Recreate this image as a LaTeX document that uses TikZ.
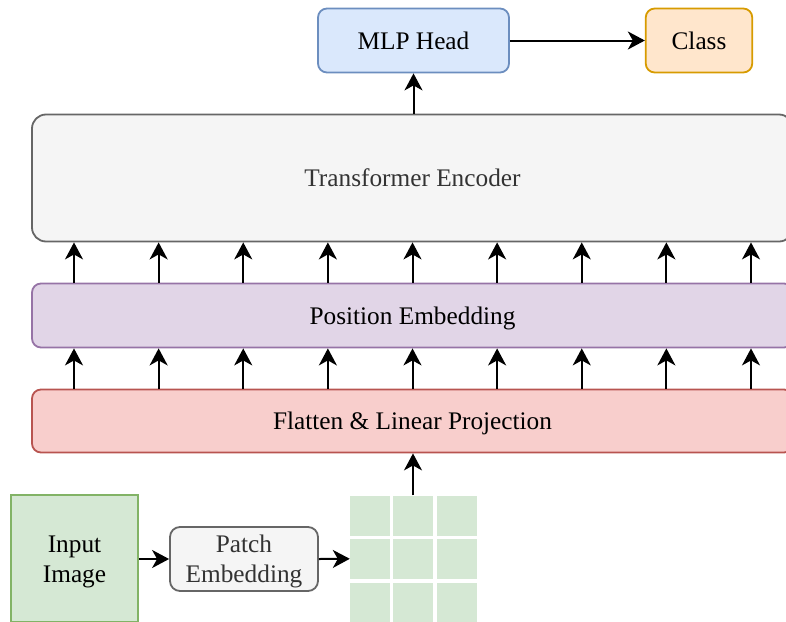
\documentclass[tikz,border=0pt]{standalone}
\usepackage{fontspec}
\setmainfont{Liberation Serif}
\usetikzlibrary{arrows.meta}
\definecolor{grayfill}{HTML}{F5F5F5}
\definecolor{graystroke}{HTML}{666666}
\definecolor{graytext}{HTML}{333333}
\definecolor{purfill}{HTML}{E1D5E7}
\definecolor{purstroke}{HTML}{9673A6}
\definecolor{redfill}{HTML}{F8CECC}
\definecolor{redstroke}{HTML}{B85450}
\definecolor{bluefill}{HTML}{DAE8FC}
\definecolor{bluestroke}{HTML}{6C8EBF}
\definecolor{orfill}{HTML}{FFE6CC}
\definecolor{orstroke}{HTML}{D79B00}
\definecolor{grfill}{HTML}{D5E8D4}
\definecolor{grstroke}{HTML}{82B366}
\tikzset{
  box/.style={draw, line width=1.8pt, inner sep=0pt, anchor=center, align=center,
    text height=17pt, text depth=0pt,
    font=\fontsize{25.3}{30}\selectfont},
  twoline/.style={text height=47pt},
  arr/.style={line width=2pt, -{Stealth[length=17pt, width=18pt, inset=5pt]}},
  cell/.style={fill=grfill, draw=none, minimum width=40pt, minimum height=40pt, inner sep=0pt},
}
\begin{document}
\begin{tikzpicture}[x=1pt,y=-1pt]
\useasboundingbox (0,0) rectangle (786,621);
\clip (0,0) rectangle (786,621);

\node[box, fill=grayfill, draw=graystroke, text=graytext, rounded corners=14pt,
  minimum width=761pt, minimum height=127pt] (enc) at (412.5,178) {Transformer Encoder};
\node[box, fill=purfill, draw=purstroke, rounded corners=9pt,
  minimum width=761pt, minimum height=64pt] (pe) at (412.5,315.5) {Position Embedding};
\node[box, fill=redfill, draw=redstroke, rounded corners=9pt,
  minimum width=761pt, minimum height=63pt] (fl) at (412.5,421) {Flatten \& Linear Projection};
\node[box, fill=bluefill, draw=bluestroke, rounded corners=9pt,
  minimum width=191pt, minimum height=64pt] (mlp) at (413.5,40.5) {MLP Head};
\node[box, fill=orfill, draw=orstroke, rounded corners=9pt,
  minimum width=106.5pt, minimum height=64pt] (cls) at (699,40.5) {Class};
\node[box, twoline, fill=grfill, draw=grstroke,
  minimum width=127pt, minimum height=127pt] (img) at (74.5,558.5) {Input\\Image};
\node[box, twoline, fill=grayfill, draw=graystroke, text=graytext, rounded corners=10pt,
  minimum width=148pt, minimum height=64pt] (patch) at (244,559) {Patch\\Embedding};

\foreach \r/\y in {1/515.5, 2/558.8, 3/602.5}{
  \foreach \c/\x in {1/370, 2/413, 3/456.7}{
    \node[cell] (g\r\c) at (\x,\y) {};
  }
}

\foreach \i in {0,...,8}{
  \coordinate (c\i) at ({74+84.625*\i},0);
  \draw[arr] (pe.north -| c\i) -- (enc.south -| c\i);
  \draw[arr] (fl.north -| c\i) -- (pe.south -| c\i);
}

\draw[arr] (enc.north -| mlp.south) -- (mlp.south);
\draw[arr] (mlp.east) -- (cls.west);
\draw[arr] (img.east |- patch.west) -- (patch.west);
\draw[arr] (patch.east) -- (g21.west);
\draw[arr] (g12.north) -- (fl.south -| g12.north);
\end{tikzpicture}
\end{document}
